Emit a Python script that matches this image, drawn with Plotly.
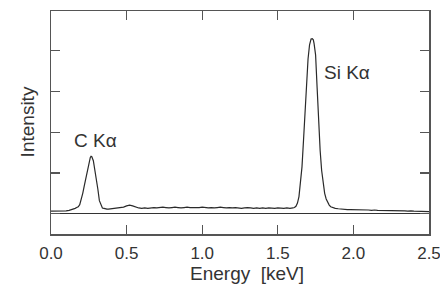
import plotly.graph_objects as go

energy = [0.00, 0.02, 0.04, 0.06, 0.08, 0.10, 0.12, 0.14,
          0.15, 0.16, 0.17, 0.18, 0.19, 0.20, 0.21, 0.22, 0.23, 0.24, 0.25, 0.26, 0.265,
          0.27, 0.28, 0.29, 0.30, 0.31, 0.32, 0.33, 0.34, 0.35, 0.36, 0.37,
          0.38, 0.40, 0.42, 0.44, 0.46, 0.48, 0.50, 0.52, 0.54, 0.56, 0.58, 0.60,
          0.62, 0.64, 0.66, 0.68, 0.70, 0.72, 0.74, 0.76, 0.78, 0.80,
          0.82, 0.84, 0.86, 0.88, 0.90, 0.92, 0.94, 0.96, 0.98, 1.00,
          1.02, 1.04, 1.06, 1.08, 1.10, 1.12, 1.14, 1.16, 1.18, 1.20,
          1.22, 1.24, 1.26, 1.28, 1.30, 1.32, 1.34, 1.36, 1.38, 1.40,
          1.42, 1.44, 1.46, 1.48, 1.50, 1.52, 1.54, 1.56, 1.58, 1.60,
          1.61, 1.62, 1.63, 1.64, 1.65, 1.66, 1.67, 1.68, 1.69, 1.70,
          1.71, 1.72, 1.728, 1.735, 1.74, 1.75, 1.76, 1.77, 1.78, 1.79,
          1.80, 1.81, 1.82, 1.83, 1.84, 1.85, 1.86, 1.87, 1.88, 1.90,
          1.92, 1.94, 1.96, 1.98, 2.00, 2.02, 2.04, 2.06, 2.08, 2.10,
          2.12, 2.14, 2.16, 2.18, 2.20, 2.22, 2.24, 2.26, 2.28, 2.30,
          2.32, 2.34, 2.36, 2.38, 2.40, 2.42, 2.44, 2.46, 2.48, 2.50]

intensity = [0.06, 0.06, 0.07, 0.06, 0.07, 0.07, 0.08, 0.10,
             0.12, 0.13, 0.15, 0.17, 0.22, 0.34, 0.50, 0.68, 0.88, 1.08, 1.26, 1.38, 1.41,
             1.40, 1.30, 1.10, 0.84, 0.60, 0.32, 0.20, 0.14, 0.13, 0.11, 0.11,
             0.11, 0.12, 0.12, 0.13, 0.14, 0.16, 0.19, 0.21, 0.19, 0.16, 0.14, 0.13,
             0.14, 0.13, 0.14, 0.15, 0.14, 0.15, 0.16, 0.15, 0.14, 0.15,
             0.16, 0.15, 0.14, 0.15, 0.16, 0.15, 0.15, 0.14, 0.15, 0.16,
             0.15, 0.14, 0.15, 0.14, 0.15, 0.16, 0.15, 0.14, 0.15, 0.14,
             0.15, 0.14, 0.13, 0.14, 0.15, 0.14, 0.13, 0.14, 0.13, 0.14,
             0.13, 0.14, 0.13, 0.13, 0.14, 0.13, 0.13, 0.14, 0.13, 0.14,
             0.15, 0.18, 0.26, 0.42, 0.72, 1.15, 1.80, 2.55, 3.25, 3.80,
             4.15, 4.29, 4.30, 4.27, 4.18, 3.90, 3.10, 2.15, 1.55, 1.06,
             0.72, 0.50, 0.36, 0.27, 0.21, 0.17, 0.15, 0.14, 0.13, 0.12,
             0.11, 0.11, 0.10, 0.10, 0.10, 0.09, 0.10, 0.09, 0.09, 0.09,
             0.08, 0.09, 0.08, 0.08, 0.08, 0.08, 0.07, 0.08, 0.07, 0.07,
             0.07, 0.07, 0.06, 0.07, 0.06, 0.06, 0.06, 0.06, 0.05, 0.05]

x_ticks = [0.0, 0.5, 1.0, 1.5, 2.0, 2.5]
x_tick_labels = ["0.0", "0.5", "1.0", "1.5", "2.0", "2.5"]
y_ticks = [0, 1, 2, 3, 4]

peak_labels = ["C K\u03b1", "Si K\u03b1"]
peak_label_x = [0.14, 1.79]
peak_label_y = [1.80, 3.47]

x_title = "Energy  [keV]"
y_title = "Intensity"

FONT = "Liberation Sans, Arial, Helvetica, sans-serif"
INK = "#333333"
FS_TICK = 17
FS_TITLE = 19

fig = go.Figure()
fig.add_trace(go.Scatter(x=energy, y=intensity, mode="lines",
                         line=dict(color="#2a2a2a", width=1.2),
                         hoverinfo="skip", showlegend=False))

for txt, xx, yy in zip(peak_labels, peak_label_x, peak_label_y):
    fig.add_annotation(x=xx, y=yy, text=txt, showarrow=False, xanchor="left",
                       yanchor="middle", font=dict(family=FONT, size=FS_TITLE, color=INK))

# axis titles placed in paper space
fig.add_annotation(xref="paper", yref="paper", x=0.518, y=-0.179, text=x_title,
                   showarrow=False, xanchor="center", yanchor="middle",
                   font=dict(family=FONT, size=FS_TITLE, color=INK))
fig.add_annotation(xref="paper", yref="paper", x=-0.0635, y=0.505, text=y_title,
                   showarrow=False, xanchor="center", yanchor="middle", textangle=-90,
                   font=dict(family=FONT, size=FS_TITLE, color=INK))

fig.update_layout(
    width=440, height=289,
    margin=dict(l=51, r=11, t=11, b=55, autoexpand=False),
    paper_bgcolor="white", plot_bgcolor="white",
    font=dict(family=FONT, size=FS_TICK, color=INK),
    showlegend=False,
)
fig.update_xaxes(range=[0, 2.5], tickvals=x_ticks, ticktext=x_tick_labels,
                 ticks="inside", ticklen=9, tickwidth=1.2, tickcolor="#555555",
                 showline=True, linecolor="#555555", linewidth=1.5, mirror="ticks",
                 showgrid=False, zeroline=False, automargin=False,
                 ticklabelstandoff=3, ticklabeloverflow="allow",
                 tickfont=dict(size=FS_TICK, family=FONT, color=INK))
fig.update_yaxes(range=[-0.5, 4.98], tickvals=y_ticks, showticklabels=False,
                 ticks="inside", ticklen=9, tickwidth=1.2, tickcolor="#555555",
                 showline=True, linecolor="#555555", linewidth=1.5, mirror="ticks",
                 showgrid=False, zeroline=True, zerolinecolor="#333333", zerolinewidth=1.2,
                 automargin=False)

fig.write_html("out.html",
               config={"displayModeBar": False, "staticPlot": True},
               post_script="document.body.style.margin='0px';document.body.style.overflow='hidden';")
